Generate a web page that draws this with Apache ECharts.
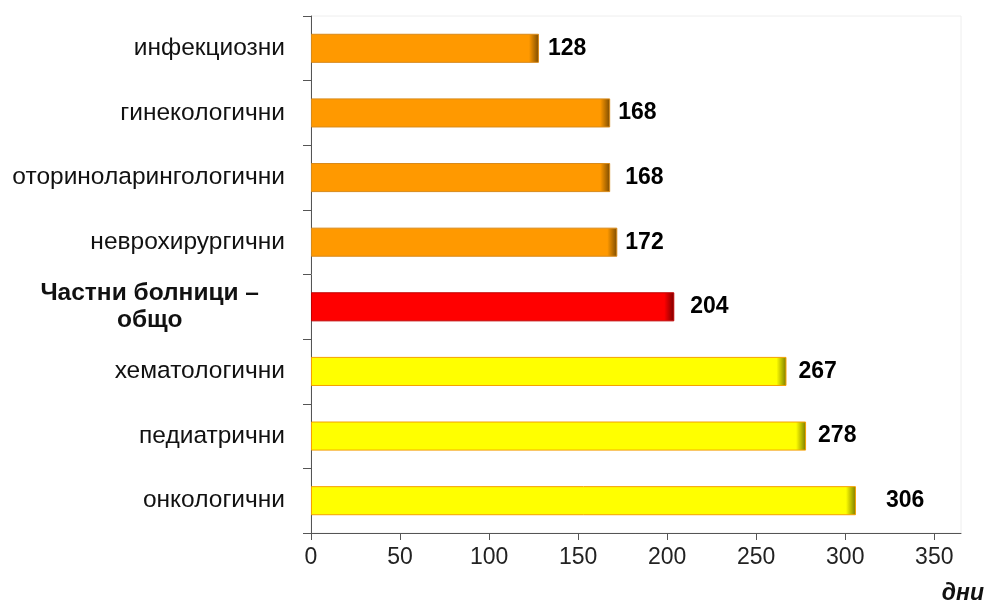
<!DOCTYPE html>
<html>
<head>
<meta charset="utf-8">
<script src="https://cdn.jsdelivr.net/npm/echarts@6/dist/echarts.min.js"></script>
<style>html,body{margin:0;padding:0;background:#fff}#c{width:989px;height:605px}</style>
</head>
<body>
<div id="c"></div>
<script>
const categories = ['инфекциозни','гинекологични','оториноларингологични','неврохирургични','Частни болници – общо','хематологични','педиатрични','онкологични'];
const values = [128, 168, 168, 172, 204, 267, 278, 306];
const groups = ['orange','orange','orange','orange','red','yellow','yellow','yellow'];
const xTicks = [0, 50, 100, 150, 200, 250, 300, 350];
const axisUnit = 'дни';

const labelGaps = [9, 8, 15, 8, 16, 12, 12, 30];
const palette = {
  orange: {main: '#FF9900', dark: '#7A4A00', border: '#D88A1A'},
  red: {main: '#FF0000', dark: '#7A0000', border: '#C00000'},
  yellow: {main: '#FFFF00', dark: '#7A7A00', border: '#F5A000'}
};
const pxPerUnit = 650 / 365;
const FONT = 'Liberation Sans, Arial';

const chart = echarts.init(document.getElementById('c'));
const data = values.map((v, i) => {
  const p = palette[groups[i]];
  const stop = Math.max(0.9, 1 - 10 / (v * pxPerUnit));
  return {
    value: v,
    itemStyle: {
      color: {type: 'linear', x: 0, y: 0, x2: 1, y2: 0, colorStops: [
        {offset: 0, color: p.main}, {offset: stop, color: p.main}, {offset: 1, color: p.dark}
      ]},
      borderColor: p.border, borderWidth: 1
    },
    label: {distance: labelGaps[i]}
  };
});

chart.setOption({
  animation: false,
  grid: {left: 311, top: 16, right: 28, bottom: 72, show: true, borderColor: '#eeeeee', borderWidth: 1},
  xAxis: {
    type: 'value', min: 0, max: 365,
    splitLine: {show: false},
    axisLine: {show: true, lineStyle: {color: '#555', width: 1}},
    axisTick: {show: true, length: 7, lineStyle: {color: '#555'}, customValues: xTicks},
    axisLabel: {customValues: xTicks, color: '#222', fontSize: 23, fontFamily: FONT, margin: 13}
  },
  yAxis: {
    type: 'category', inverse: true, data: categories,
    axisLine: {show: true, lineStyle: {color: '#555', width: 1}},
    axisTick: {show: true, length: 8, lineStyle: {color: '#555'}},
    axisLabel: {
      color: '#111', fontSize: 24.5, fontFamily: FONT, margin: 26,
      formatter: function (v) {
        if (v === 'Частни болници – общо') return '{b|Частни болници –}{sp|}\n{b|общо}{sp|}';
        return v;
      },
      rich: {
        b: {fontWeight: 'bold', fontSize: 24.5, fontFamily: FONT, color: '#111', align: 'center', lineHeight: 27},
        sp: {width: 26, align: 'right', lineHeight: 27}
      }
    }
  },
  series: [{
    type: 'bar', data: data, barWidth: '45%',
    label: {show: true, position: 'right', color: '#000', fontWeight: 'bold', fontSize: 23, fontFamily: FONT}
  }],
  graphic: [{
    type: 'text', right: 5, top: 582,
    style: {text: axisUnit, fontSize: 23, fontWeight: 'bold', fontStyle: 'italic', fontFamily: FONT, fill: '#111'}
  }]
});
</script>
</body>
</html>
